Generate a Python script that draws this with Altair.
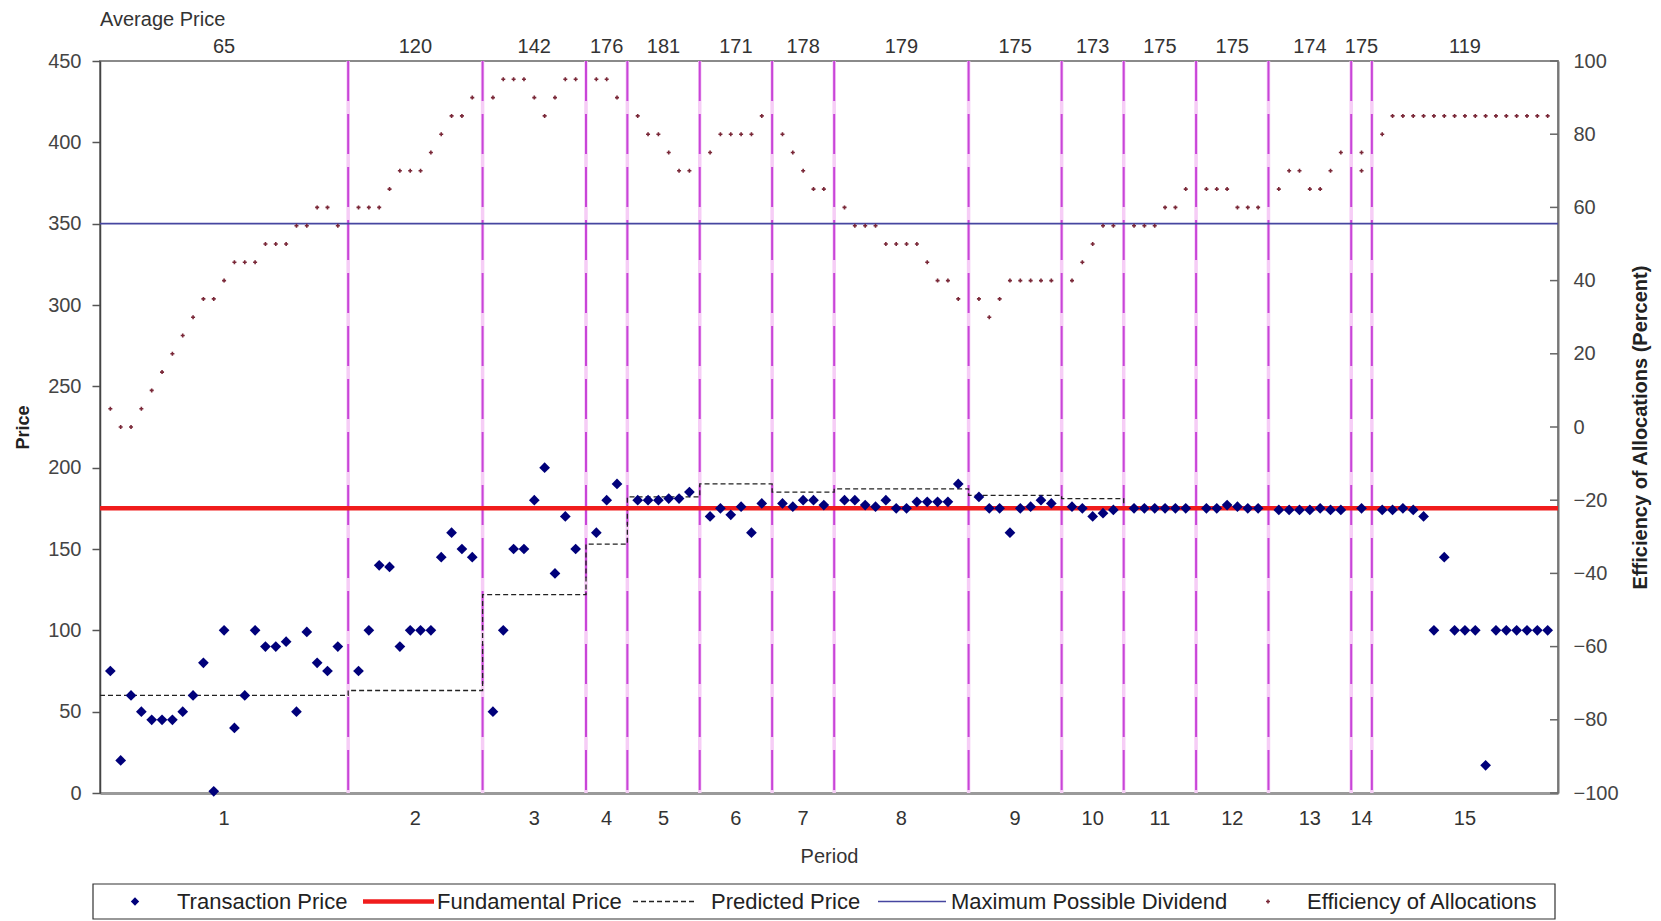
import altair as alt
import pandas as pd

# ---------------- data ----------------
periods = list(range(1, 16))
avg_price = [65, 120, 142, 176, 181, 171, 178, 179, 175, 173, 175, 175, 174, 175, 119]
predicted_price = [60, 63, 122, 153, 182, 190, 185, 187, 183, 181, 175, 175, 175, 175, 175]
# transaction-index positions of the period separators
boundaries = [24, 37, 47, 51, 58, 65, 71, 84, 93, 99, 106, 113, 121, 123]
x_end = 141
fundamental_price = 175
max_dividend = 350

prices = [
    [75, 20, 60, 50, 45, 45, 45, 50, 60, 80, 1, 100, 40, 60, 100, 90, 90, 93, 50, 99, 80, 75, 90],
    [75, 100, 140, 139, 90, 100, 100, 100, 145, 160, 150, 145],
    [50, 100, 150, 150, 180, 200, 135, 170, 150],
    [160, 180, 190],
    [180, 180, 180, 181, 181, 185],
    [170, 175, 171, 176, 160, 178],
    [178, 176, 180, 180, 177],
    [180, 180, 177, 176, 180, 175, 175, 179, 179, 179, 179, 190],
    [182, 175, 175, 160, 175, 176, 180, 178],
    [176, 175, 170, 172, 174],
    [175, 175, 175, 175, 175, 175],
    [175, 175, 177, 176, 175, 175],
    [174, 174, 174, 174, 175, 174, 174],
    [175],
    [174, 174, 175, 174, 170, 100, 145, 100, 100, 100, 17, 100, 100, 100, 100, 100, 100],
]

efficiency = [
    [5, 0, 0, 5, 10, 15, 20, 25, 30, 35, 35, 40, 45, 45, 45, 50, 50, 50, 55, 55, 60, 60, 55],
    [60, 60, 60, 65, 70, 70, 70, 75, 80, 85, 85, 90],
    [90, 95, 95, 95, 90, 85, 90, 95, 95],
    [95, 95, 90],
    [85, 80, 80, 75, 70, 70],
    [75, 80, 80, 80, 80, 85],
    [80, 75, 70, 65, 65],
    [60, 55, 55, 55, 50, 50, 50, 50, 45, 40, 40, 35],
    [35, 30, 35, 40, 40, 40, 40, 40],
    [40, 45, 50, 55, 55],
    [55, 55, 55, 60, 60, 65],
    [65, 65, 65, 60, 60, 60],
    [65, 70, 70, 65, 65, 70, 75],
    [75, 70],
    [80] + [85] * 16,
]

legend_labels = ["Transaction Price", "Fundamental Price", "Predicted Price",
                 "Maximum Possible Dividend", "Efficiency of Allocations"]

# ---------------- tables ----------------
edges = [0] + boundaries + [x_end]
trade_rows, eff_rows, pred_rows, label_rows = [], [], [], []
seq = 0
for i, p in enumerate(periods):
    left, right = edges[i], edges[i + 1]
    start = left + 1
    slots = right - start
    for k, v in enumerate(prices[i]):
        trade_rows.append({"x": start + min(k, slots - 1), "price": v, "period": p})
    for k, v in enumerate(efficiency[i]):
        eff_rows.append({"x": start + min(k, slots - 1), "eff": v, "period": p})
    pred_rows.append({"x": left, "price": predicted_price[i], "seq": seq}); seq += 1
    pred_rows.append({"x": right, "price": predicted_price[i], "seq": seq}); seq += 1
    label_rows.append({"x": (left + right) / 2, "period": str(p), "avg": str(avg_price[i])})

trades = pd.DataFrame(trade_rows)
effs = pd.DataFrame(eff_rows)
preds = pd.DataFrame(pred_rows)
labels = pd.DataFrame(label_rows)
bounds = pd.DataFrame({"x": boundaries})
hlines = pd.DataFrame({"price": [fundamental_price], "x": [0], "x2": [x_end]})
maxdiv = pd.DataFrame({"price": [max_dividend], "x": [0], "x2": [x_end]})
eff_ticks = pd.DataFrame({"tick": list(range(-100, 101, 20))})
one = pd.DataFrame({"a": [0]})

# ---------------- styling ----------------
FONT = "Liberation Sans"
W, H = 1458, 732
TXT = "#333333"

x_scale = alt.Scale(domain=[0, x_end], nice=False, zero=False)
x_axis = alt.Axis(title="Period", labels=False, ticks=False, grid=False,
                  domainColor="#9a9a9a", domainWidth=3,
                  titleFont=FONT, titleFontSize=20, titleFontWeight="normal",
                  titleColor=TXT, titleY=63, titleBaseline="middle")
price_scale = alt.Scale(domain=[0, 450], nice=False, zero=False)
eff_scale = alt.Scale(domain=[-100, 100], nice=False, zero=False)

price_axis = alt.Axis(orient="left", values=list(range(0, 451, 50)), title="Price",
                      grid=False, tickSize=8, tickColor="#555555", tickWidth=1.5,
                      labelPadding=11, labelFont=FONT, labelFontSize=20, labelColor="#444444",
                      domainColor="#444444", domainWidth=1.5,
                      titleFont=FONT, titleFontSize=18, titleFontWeight="bold", titleColor="#222222",
                      titleX=-77, titleY=H / 2, titleAngle=270, titleBaseline="middle")
eff_axis = alt.Axis(orient="right", values=list(range(-100, 101, 20)),
                    title="Efficiency of Allocations (Percent)",
                    grid=False, ticks=False, labelPadding=15, labelFont=FONT, labelFontSize=20,
                    labelColor="#444444", domainColor="#777777", domainWidth=2,
                    titleFont=FONT, titleFontSize=20, titleFontWeight="bold", titleColor="#222222",
                    titleX=82, titleY=H / 2, titleAngle=270, titleBaseline="middle")


def X(field="x"):
    return alt.X(f"{field}:Q", scale=x_scale, axis=x_axis)


# boundaries
bound_bg = alt.Chart(bounds).mark_rule(color="#f6cdf6", strokeWidth=3.5).encode(x=X())
bound_fg = alt.Chart(bounds).mark_rule(color="#c845d8", strokeWidth=2, strokeDash=[40, 13]).encode(x=X())

# maximum possible dividend
div_line = alt.Chart(maxdiv).mark_rule(color="#4646a0", strokeWidth=1.6).encode(
    x=X(), x2="x2:Q", y=alt.Y("price:Q", scale=price_scale, axis=None))

# predicted price
pred_line = alt.Chart(preds).mark_line(color="#222222", strokeWidth=1.3, strokeDash=[5, 3]).encode(
    x=X(), y=alt.Y("price:Q", scale=price_scale, axis=None), order="seq:Q")

# fundamental price
fund_line = alt.Chart(hlines).mark_rule(color="#f01c1c", strokeWidth=4.5).encode(
    x=X(), x2="x2:Q", y=alt.Y("price:Q", scale=price_scale, axis=price_axis))

# efficiency points (right axis)
eff_pts = alt.Chart(effs).mark_point(shape="cross", filled=True, size=16, color="#7a2838",
                                     opacity=1).encode(
    x=X(), y=alt.Y("eff:Q", scale=eff_scale, axis=eff_axis))

eff_tick_marks = alt.Chart(eff_ticks).mark_rule(color="#666666", strokeWidth=1.5).encode(
    x=alt.value(W - 8), x2=alt.value(W), y=alt.Y("tick:Q", scale=eff_scale, axis=None))

# transactions
trade_pts = alt.Chart(trades).mark_point(shape="diamond", filled=True, size=115, color="#00007a",
                                         opacity=1).encode(
    x=X(), y=alt.Y("price:Q", scale=price_scale, axis=None))

# text labels
period_txt = alt.Chart(labels).mark_text(font=FONT, fontSize=20, color=TXT, baseline="middle").encode(
    x=X(), y=alt.value(758), text="period:N")
avg_txt = alt.Chart(labels).mark_text(font=FONT, fontSize=20, color=TXT, baseline="middle").encode(
    x=X(), y=alt.value(-14), text="avg:N")
avg_title = alt.Chart(one).mark_text(font=FONT, fontSize=20, color=TXT, align="left",
                                     baseline="middle").encode(
    x=alt.value(0), y=alt.value(-41), text=alt.value("Average Price"))

# custom legend (layout positions only)
LY = 840.5
leg_box = alt.Chart(one).mark_rect(fillOpacity=0, stroke="#333333", strokeWidth=1.2).encode(
    x=alt.value(-7), x2=alt.value(1455), y=alt.value(823), y2=alt.value(858))
leg_diamond = alt.Chart(one).mark_point(shape="diamond", filled=True, size=70, color="#00007a",
                                        opacity=1).encode(x=alt.value(35), y=alt.value(LY))
leg_red = alt.Chart(one).mark_rule(color="#f01c1c", strokeWidth=4.5).encode(
    x=alt.value(263), x2=alt.value(334), y=alt.value(LY))
leg_pred = alt.Chart(one).mark_rule(color="#222222", strokeWidth=1.3, strokeDash=[5, 3]).encode(
    x=alt.value(533), x2=alt.value(597), y=alt.value(LY))
leg_blue = alt.Chart(one).mark_rule(color="#4646a0", strokeWidth=1.6).encode(
    x=alt.value(778), x2=alt.value(846), y=alt.value(LY))
leg_eff = alt.Chart(one).mark_point(shape="cross", filled=True, size=16, color="#7a2838",
                                    opacity=1).encode(x=alt.value(1168), y=alt.value(LY))
leg_text_x = [77, 337, 611, 851, 1207]
leg_texts = [
    alt.Chart(one).mark_text(font=FONT, fontSize=22, color="#222222", align="left",
                             baseline="middle").encode(
        x=alt.value(tx), y=alt.value(LY), text=alt.value(lbl))
    for tx, lbl in zip(leg_text_x, legend_labels)
]

chart = alt.layer(
    bound_bg, bound_fg, div_line, pred_line, fund_line, eff_pts, eff_tick_marks, trade_pts,
    period_txt, avg_txt, avg_title,
    leg_box, leg_diamond, leg_red, leg_pred, leg_blue, leg_eff, *leg_texts
).resolve_scale(y="independent").properties(
    width=W, height=H,
    padding={"left": 100, "top": 61, "right": 103, "bottom": 128},
    autosize=alt.AutoSizeParams(type="none"),
    background="white",
).configure_view(stroke="#8a8a8a", strokeWidth=2)

chart.save("out.html", embed_options={"renderer": "svg", "actions": False})
